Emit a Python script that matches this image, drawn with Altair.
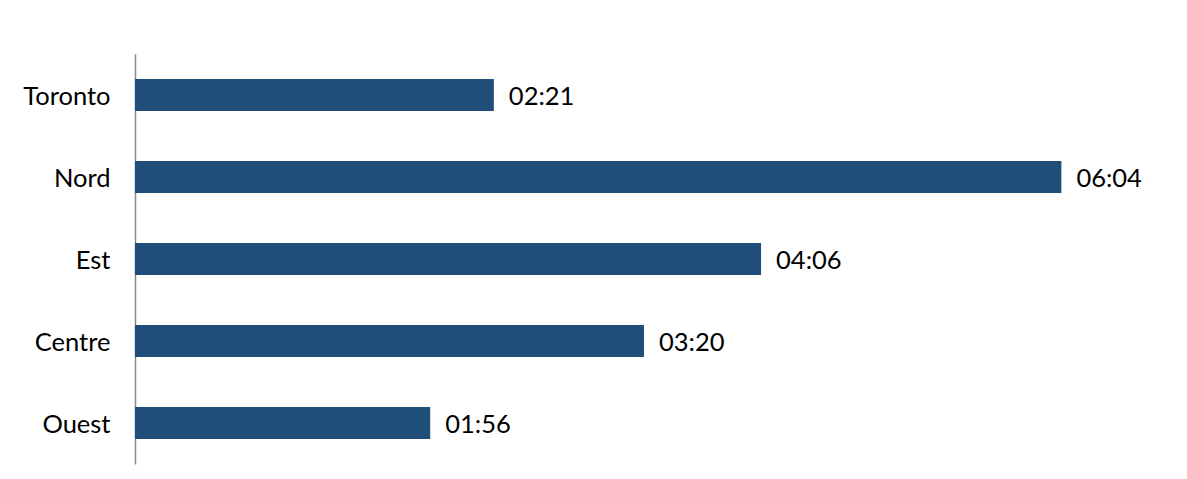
import altair as alt
import pandas as pd

regions = ["Toronto", "Nord", "Est", "Centre", "Ouest"]
seconds = [141, 364, 246, 200, 116]
labels = ["02:21", "06:04", "04:06", "03:20", "01:56"]

df = pd.DataFrame({"region": regions, "sec": seconds, "label": labels})

FONT = "Lato"
FS = 25.5
y_enc = alt.Y("region:N", sort=regions, title=None,
              scale=alt.Scale(paddingInner=0, paddingOuter=0),
              axis=alt.Axis(ticks=False, domain=True, domainColor="#888888",
                            domainWidth=1.5, labelFontSize=FS, labelFont=FONT,
                            labelColor="#000000", labelPadding=25, labelOffset=2,
                            grid=False))
x_enc = alt.X("sec:Q", title=None, scale=alt.Scale(domain=[0, 400], nice=False),
              axis=None)

bars = alt.Chart(df).mark_bar(size=32, color="#1F4E79").encode(y=y_enc, x=x_enc)
text = alt.Chart(df).mark_text(align="left", baseline="middle", dx=15, dy=2,
                               fontSize=FS, font=FONT, color="#000000").encode(
    y=alt.Y("region:N", sort=regions), x="sec:Q", text="label:N")

chart = (bars + text).properties(
    width=1018, height=410,
    autosize=alt.AutoSizeParams(type="none"),
    padding={"left": 127, "top": 46, "right": 20, "bottom": 10},
).configure_view(stroke=None)

chart.save("out.html", embed_options={"renderer": "svg", "actions": False})
